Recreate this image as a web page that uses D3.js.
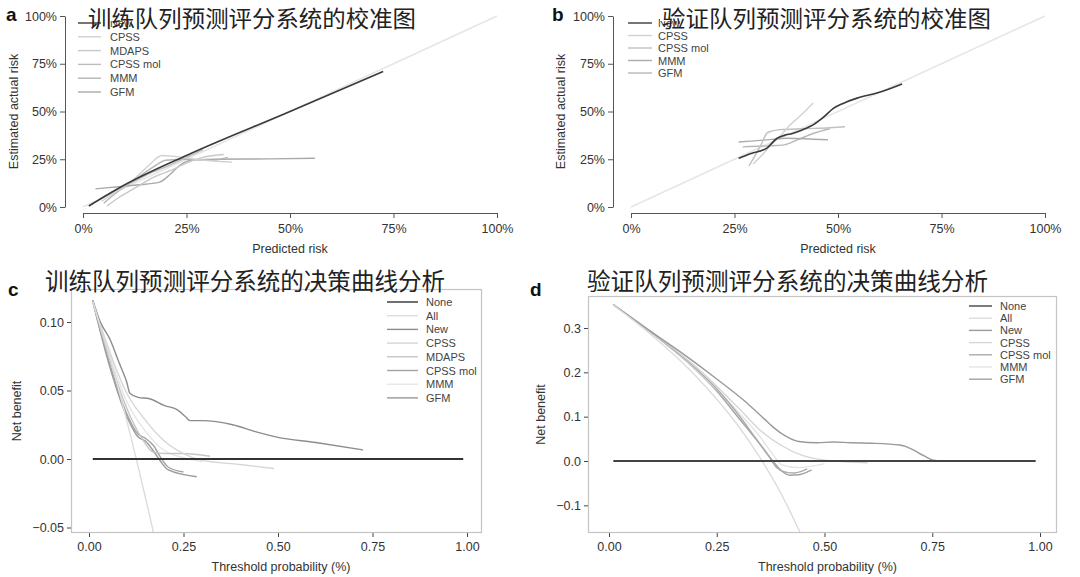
<!DOCTYPE html>
<html><head><meta charset="utf-8">
<script src="https://cdn.jsdelivr.net/npm/d3@7"></script>
<style>
html,body{margin:0;padding:0;background:#fff;}
svg{display:block;font-family:"Liberation Sans",Arial,sans-serif;}
</style></head>
<body><svg id="c" width="1080" height="577"></svg>
<script>
// ---------- DATA ----------
const titleA = "训练队列预测评分系统的校准图";
const titleB = "验证队列预测评分系统的校准图";
const titleC = "训练队列预测评分系统的决策曲线分析";
const titleD = "验证队列预测评分系统的决策曲线分析";

const calTicks = [0, 25, 50, 75, 100];
const calTickLabels = ["0%", "25%", "50%", "75%", "100%"];
const dcaXTicks = [0, 0.25, 0.5, 0.75, 1];
const dcaXTickLabels = ["0.00", "0.25", "0.50", "0.75", "1.00"];
const dcaCYTicks = [-0.05, 0, 0.05, 0.10];
const dcaCYTickLabels = ["\u22120.05", "0.00", "0.05", "0.10"];
const dcaDYTicks = [-0.1, 0, 0.1, 0.2, 0.3];
const dcaDYTickLabels = ["\u22120.1", "0.0", "0.1", "0.2", "0.3"];

// Panel a (training calibration): [predicted %, actual %]
const modelsA = ["New", "CPSS", "MDAPS", "CPSS mol", "MMM", "GFM"];
const idealLine = [[0, 0], [100, 100]];
const calA_New = [[1.4, 0.5], [10, 11.5], [25, 27], [50, 50], [72.5, 71]];
const calA_CPSS = [[4.5, 3], [8, 8], [12, 14], [16, 22], [19, 27], [22, 26.5], [27, 25], [36, 23.5]];
const calA_MDAPS = [[5.8, 0.5], [9, 5.5], [13, 10.5], [17, 15.5], [21, 19], [25, 23], [29, 26], [34, 27.5]];
const calA_CPSSmol = [[4, 4], [8, 9], [12, 13], [16, 17.5], [20, 21], [24, 25], [27, 28], [29, 30]];
const calA_MMM = [[5, 2], [9, 9], [13, 15], [17, 21], [20, 24.5], [25, 25], [31, 24.5], [35, 26]];
const calA_GFM = [[3, 9.5], [8, 10.5], [13, 11.5], [18.5, 13], [21, 17], [23.5, 22], [26, 24.5], [32, 25], [45, 25.2], [56, 25.5]];

// Panel b (validation calibration)
const modelsB = ["New", "CPSS", "CPSS mol", "MMM", "GFM"];
const calB_New = [[26, 25.5], [29, 28], [32.9, 31], [35.3, 36], [37, 37.5], [39, 38.5], [42, 41], [44, 43], [46.5, 47], [48.8, 51.5], [51.5, 54.5], [54.6, 57], [59.4, 59.7], [62, 61.5], [65.5, 64.4]];
const calB_CPSS = [[29.5, 22.5], [32, 28], [34, 33], [36, 37], [38, 42], [41, 48], [44, 54.5]];
const calB_CPSSmol = [[28.5, 21.5], [30, 27], [31.5, 33], [33, 39], [36, 40.5], [42, 41], [48, 41.5], [51.7, 42]];
const calB_MMM = [[26, 34], [32, 35], [38, 36], [44, 35.5], [47.6, 35.2]];
const calB_GFM = [[27, 31.5], [33, 32], [37, 32.5], [40, 35], [44, 38.5], [48, 41]];

// Panel c (training DCA): [threshold, net benefit]
const modelsC = ["None", "All", "New", "CPSS", "MDAPS", "CPSS mol", "MMM", "GFM"];
const dcaC_None = [[0.01, 0], [0.99, 0]];
const dcaC_All = [[0.01, 0.115], [0.05, 0.079], [0.10, 0.028], [0.15, -0.029], [0.18, -0.065]];
const dcaC_New = [[0.01, 0.116], [0.03, 0.1], [0.056, 0.087], [0.08, 0.07], [0.1, 0.056], [0.108, 0.048], [0.13, 0.045], [0.16, 0.044], [0.2, 0.039], [0.233, 0.036], [0.255, 0.031], [0.267, 0.028], [0.3, 0.028], [0.38, 0.025], [0.44, 0.02], [0.497, 0.016], [0.6, 0.012], [0.725, 0.0066]];
const dcaC_CPSS = [[0.01, 0.115], [0.05, 0.082], [0.1, 0.048], [0.15, 0.028], [0.2, 0.013], [0.25, 0.004], [0.3, -0.001], [0.4, -0.004], [0.49, -0.007]];
const dcaC_MDAPS = [[0.01, 0.115], [0.05, 0.077], [0.1, 0.037], [0.14, 0.015], [0.17, 0.005], [0.2, 0.004], [0.25, 0.004], [0.32, 0.002]];
const dcaC_CPSSmol = [[0.01, 0.115], [0.05, 0.074], [0.1, 0.033], [0.13, 0.018], [0.15, 0.015], [0.17, 0.01], [0.19, 0.001], [0.21, -0.006], [0.25, -0.0095]];
const dcaC_MMM = [[0.01, 0.115], [0.05, 0.08], [0.1, 0.042], [0.15, 0.02], [0.2, 0.006], [0.25, 0.001], [0.3, -0.002]];
const dcaC_GFM = [[0.01, 0.115], [0.05, 0.072], [0.1, 0.031], [0.13, 0.016], [0.15, 0.013], [0.17, 0.006], [0.19, -0.002], [0.21, -0.008], [0.285, -0.013]];

// Panel d (validation DCA)
const modelsD = ["None", "All", "New", "CPSS", "CPSS mol", "MMM", "GFM"];
const dcaD_None = [[0.01, 0], [0.99, 0]];
const dcaD_All = [[0.01, 0.352], [0.1, 0.283], [0.2, 0.193], [0.3, 0.079], [0.35, 0.008], [0.4, -0.075], [0.45, -0.175]];
const dcaD_New = [[0.01, 0.353], [0.1, 0.29], [0.18, 0.236], [0.25, 0.185], [0.32, 0.131], [0.36, 0.095], [0.38, 0.077], [0.41, 0.056], [0.44, 0.044], [0.483, 0.041], [0.52, 0.043], [0.56, 0.041], [0.61, 0.04], [0.675, 0.036], [0.7, 0.028], [0.73, 0.012], [0.752, 0.002], [0.775, 0]];
const dcaD_CPSS = [[0.01, 0.352], [0.1, 0.29], [0.2, 0.214], [0.3, 0.12], [0.35, 0.07], [0.4, 0.035], [0.45, 0.012], [0.5, 0.002], [0.6, -0.004]];
const dcaD_CPSSmol = [[0.01, 0.352], [0.1, 0.289], [0.2, 0.21], [0.25, 0.163], [0.3, 0.105], [0.34, 0.052], [0.37, 0.012], [0.39, -0.016], [0.41, -0.025], [0.43, -0.027], [0.46, -0.018]];
const dcaD_MMM = [[0.01, 0.352], [0.1, 0.289], [0.2, 0.208], [0.3, 0.11], [0.35, 0.055], [0.38, 0.015], [0.4, -0.008], [0.44, -0.015], [0.5, -0.006]];
const dcaD_GFM = [[0.01, 0.352], [0.1, 0.288], [0.2, 0.207], [0.25, 0.158], [0.3, 0.098], [0.35, 0.038], [0.38, 0.0], [0.4, -0.022], [0.42, -0.032], [0.44, -0.031], [0.47, -0.02]];

// ---------- DRAW ----------
const svg = d3.select("#c");
const CJK = '"Noto Sans CJK SC","Noto Sans CJK JP",sans-serif';

function drawCal(cfg) {
  const g = svg.append("g");
  const x = d3.scaleLinear([0, 100], cfg.xr);
  const y = d3.scaleLinear([0, 100], cfg.yr);
  const ya = g.append("g").attr("transform", `translate(${cfg.yAxisX},0)`)
    .call(d3.axisLeft(y).tickValues(calTicks).tickFormat((d, i) => calTickLabels[i]).tickSize(5).tickSizeOuter(0).tickPadding(3));
  const xa = g.append("g").attr("transform", `translate(0,${cfg.xAxisY})`)
    .call(d3.axisBottom(x).tickValues(calTicks).tickFormat((d, i) => calTickLabels[i]).tickSize(5).tickSizeOuter(0).tickPadding(6));
  [ya, xa].forEach(a => {
    a.selectAll("path,line").attr("stroke", "#555");
    a.selectAll("text").attr("font-size", 12.5).attr("fill", "#333").attr("font-family", '"Liberation Sans",Arial,sans-serif');
  });
  g.append("text").attr("x", (cfg.xr[0] + cfg.xr[1]) / 2).attr("y", cfg.xAxisY + 40).attr("text-anchor", "middle")
    .attr("font-size", 12.5).attr("fill", "#333").text("Predicted risk");
  g.append("text").attr("transform", `translate(${cfg.yLabX},${(cfg.yr[0] + cfg.yr[1]) / 2}) rotate(-90)`)
    .attr("text-anchor", "middle").attr("dominant-baseline", "central").attr("font-size", 12.5).attr("fill", "#333").text("Estimated actual risk");
  const line = d3.line().x(d => x(d[0])).y(d => y(d[1])).curve(d3.curveMonotoneX);
  g.append("path").attr("d", line(idealLine)).attr("fill", "none").attr("stroke", "#e6e6e6").attr("stroke-width", 1.6);
  cfg.series.slice().reverse().forEach(s => {
    g.append("path").attr("d", line(s.data)).attr("fill", "none").attr("stroke", s.color).attr("stroke-width", s.w || 1.4);
  });
  cfg.series.forEach((s, i) => {
    const yy = cfg.leg.y0 + i * cfg.leg.dy;
    g.append("line").attr("x1", cfg.leg.x1).attr("x2", cfg.leg.x2).attr("y1", yy).attr("y2", yy).attr("stroke", s.color).attr("stroke-width", 1.4);
    g.append("text").attr("x", cfg.leg.tx).attr("y", yy).attr("dominant-baseline", "central").attr("font-size", 11).attr("fill", "#444").text(s.name);
  });
  g.append("rect").attr("x", cfg.title.x - 2).attr("y", 0).attr("width", cfg.title.w).attr("height", 21).attr("fill", "#fff");
  g.append("text").attr("x", cfg.title.x).attr("y", cfg.title.y).attr("font-family", CJK).attr("font-size", 22.5)
    .attr("fill", "#222").attr("textLength", cfg.title.w - 4).attr("lengthAdjust", "spacingAndGlyphs").text(cfg.title.text);
  g.append("text").attr("x", cfg.letter[0]).attr("y", cfg.letter[1]).attr("font-size", 19).attr("font-weight", "bold").attr("fill", "#111").text(cfg.letter[2]);
}

function drawDca(cfg, id) {
  const g = svg.append("g");
  const x = d3.scaleLinear([0, 1], cfg.xr);
  const y = d3.scaleLinear(cfg.yd, cfg.yr);
  const b = cfg.box;
  g.append("clipPath").attr("id", id).append("rect").attr("x", b[0]).attr("y", b[1]).attr("width", b[2] - b[0]).attr("height", b[3] - b[1]);
  const ya = g.append("g").attr("transform", `translate(${b[0]},0)`)
    .call(d3.axisLeft(y).tickValues(cfg.yTicks).tickFormat((d, i) => cfg.yLabels[i]).tickSize(4).tickPadding(3));
  const xa = g.append("g").attr("transform", `translate(0,${b[3]})`)
    .call(d3.axisBottom(x).tickValues(dcaXTicks).tickFormat((d, i) => dcaXTickLabels[i]).tickSize(4).tickPadding(5));
  [ya, xa].forEach(a => {
    a.select(".domain").remove();
    a.selectAll("line").attr("stroke", "#444");
    a.selectAll("text").attr("font-size", 12.5).attr("fill", "#333").attr("font-family", '"Liberation Sans",Arial,sans-serif');
  });
  g.append("text").attr("x", (cfg.xr[0] + cfg.xr[1]) / 2 + 3).attr("y", 567).attr("dominant-baseline", "central").attr("text-anchor", "middle")
    .attr("font-size", 12.5).attr("fill", "#333").text("Threshold probability (%)");
  g.append("text").attr("transform", `translate(${cfg.yLabX},${(b[1] + b[3]) / 2}) rotate(-90)`)
    .attr("text-anchor", "middle").attr("dominant-baseline", "central").attr("font-size", 12.5).attr("fill", "#333").text("Net benefit");
  const line = d3.line().x(d => x(d[0])).y(d => y(d[1])).curve(d3.curveMonotoneX);
  const pg = g.append("g").attr("clip-path", `url(#${id})`);
  cfg.series.slice().reverse().forEach(s => {
    pg.append("path").attr("d", line(s.data)).attr("fill", "none").attr("stroke", s.color).attr("stroke-width", s.w || 1.4);
  });
  g.append("rect").attr("x", b[0] + 0.5).attr("y", b[1] + 0.5).attr("width", b[2] - b[0] - 1).attr("height", b[3] - b[1] - 1)
    .attr("fill", "none").attr("stroke", "#c4c4c4").attr("stroke-width", 1.2);
  cfg.series.forEach((s, i) => {
    const yy = cfg.leg.y0 + i * cfg.leg.dy;
    g.append("line").attr("x1", cfg.leg.x1).attr("x2", cfg.leg.x2).attr("y1", yy).attr("y2", yy).attr("stroke", s.color).attr("stroke-width", 1.4);
    g.append("text").attr("x", cfg.leg.tx).attr("y", yy).attr("dominant-baseline", "central").attr("font-size", 11).attr("fill", "#444").text(s.name);
  });
  g.append("text").attr("x", cfg.title.x).attr("y", cfg.title.y).attr("font-family", CJK).attr("font-size", 23.5)
    .attr("fill", "#222").attr("textLength", cfg.title.w).attr("lengthAdjust", "spacingAndGlyphs").text(cfg.title.text);
  g.append("text").attr("x", cfg.letter[0]).attr("y", cfg.letter[1]).attr("font-size", 19).attr("font-weight", "bold").attr("fill", "#111").text(cfg.letter[2]);
}

const colA = ["#3a3a3a", "#d0d0d0", "#c8c8c8", "#bcbcbc", "#b4b4b4", "#a9a9a9"];
const dataA = [calA_New, calA_CPSS, calA_MDAPS, calA_CPSSmol, calA_MMM, calA_GFM];
drawCal({
  xr: [83, 497], yr: [207, 16], yAxisX: 65, xAxisY: 213, yLabX: 14,
  series: modelsA.map((m, i) => ({ name: m, data: dataA[i], color: colA[i], w: i === 0 ? 1.6 : 1.4 })),
  leg: { x1: 78, x2: 101, tx: 110, y0: 23, dy: 13.8 },
  title: { x: 88, y: 26.5, w: 332, text: titleA },
  letter: [6, 21, "a"]
});

const colB = ["#3a3a3a", "#d2d2d2", "#c0c0c0", "#acacac", "#b8b8b8"];
const dataB = [calB_New, calB_CPSS, calB_CPSSmol, calB_MMM, calB_GFM];
drawCal({
  xr: [631, 1045], yr: [207, 16], yAxisX: 613, xAxisY: 213, yLabX: 561,
  series: modelsB.map((m, i) => ({ name: m, data: dataB[i], color: colB[i], w: i === 0 ? 1.6 : 1.4 })),
  leg: { x1: 628, x2: 652, tx: 658, y0: 23, dy: 12.5 },
  title: { x: 662, y: 26.5, w: 333, text: titleB },
  letter: [552, 21, "b"]
});

const colC = ["#333333", "#dcdcdc", "#8c8c8c", "#d6d6d6", "#c6c6c6", "#a2a2a2", "#e6e6e6", "#999999"];
const dataC = [dcaC_None, dcaC_All, dcaC_New, dcaC_CPSS, dcaC_MDAPS, dcaC_CPSSmol, dcaC_MMM, dcaC_GFM];
drawDca({
  xr: [89, 467], yd: [0, 0.1], yr: [459, 322], box: [71, 289, 482, 533],
  yTicks: dcaCYTicks, yLabels: dcaCYTickLabels, yLabX: 17,
  series: modelsC.map((m, i) => ({ name: m, data: dataC[i], color: colC[i], w: i === 0 ? 1.8 : 1.4 })),
  leg: { x1: 387, x2: 418, tx: 426, y0: 302, dy: 13.7 },
  title: { x: 45, y: 290, w: 400, text: titleC },
  letter: [8, 296, "c"]
}, "clipC");

const colD = ["#444444", "#dcdcdc", "#9a9a9a", "#d6d6d6", "#ababab", "#e4e4e4", "#a2a2a2"];
const dataD = [dcaD_None, dcaD_All, dcaD_New, dcaD_CPSS, dcaD_CPSSmol, dcaD_MMM, dcaD_GFM];
drawDca({
  xr: [609, 1040], yd: [0, 0.3], yr: [461, 328], box: [588, 296, 1057, 533],
  yTicks: dcaDYTicks, yLabels: dcaDYTickLabels, yLabX: 541,
  series: modelsD.map((m, i) => ({ name: m, data: dataD[i], color: colD[i], w: i === 0 ? 1.8 : 1.4 })),
  leg: { x1: 969, x2: 992, tx: 1000, y0: 306, dy: 12.2 },
  title: { x: 587, y: 290, w: 401, text: titleD },
  letter: [530, 296, "d"]
}, "clipD");
</script></body></html>
